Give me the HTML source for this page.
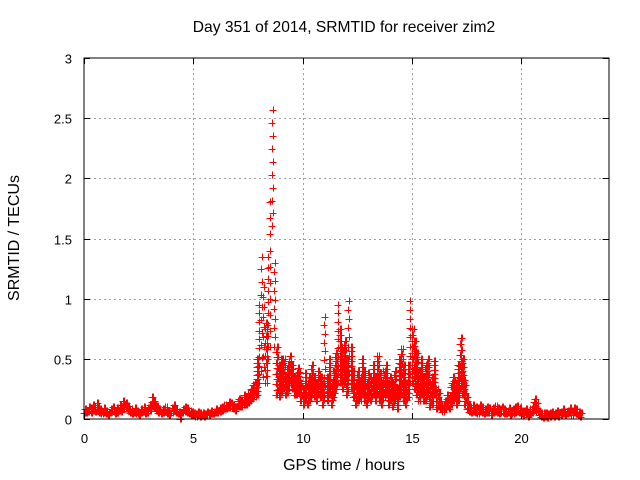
<!DOCTYPE html>
<html><head><meta charset="utf-8"><style>
body{margin:0;background:#fff;}
svg{display:block;font-family:"Liberation Sans",sans-serif;}
</style></head><body>
<svg id="chart" width="640" height="480">
<text x="344" y="32" font-size="15.6" text-anchor="middle">Day 351 of 2014, SRMTID for receiver zim2</text>
<text x="344" y="470" font-size="16" text-anchor="middle">GPS time / hours</text>
<text transform="translate(19,238) rotate(-90)" font-size="16" text-anchor="middle">SRMTID / TECUs</text>
<g id="grid"></g><g id="pts"></g>
<rect x="84" y="58" width="525" height="361" fill="none" stroke="#000" stroke-width="1"/>
<g id="axes"></g>
</svg>
<script>
const xTicks=[0,5,10,15,20];
const yTicks=[0,0.5,1,1.5,2,2.5,3];
const yTickLabels=["0","0.5","1","1.5","2","2.5","3"];
const t0=0, dt=0.1;
const hi=[0.08,0.07,0.1,0.09,0.12,0.1,0.13,0.08,0.06,0.09,0.07,0.05,0.08,0.1,0.07,0.09,0.12,0.1,0.15,0.13,0.11,0.08,0.06,0.09,0.07,0.05,0.08,0.1,0.07,0.09,0.12,0.18,0.15,0.11,0.08,0.06,0.08,0.1,0.07,0.05,0.09,0.12,0.08,0.06,0.05,0.08,
0.1,0.09,0.07,0.06,0.05,0.04,0.06,0.05,0.05,0.04,0.06,0.05,0.07,0.06,0.08,0.07,0.09,0.1,0.12,0.11,0.14,0.13,0.12,0.1,0.15,
0.17,0.16,0.2,0.18,0.22,0.25,0.28,0.3,0.5,0.95,
1.35,1.1,0.8,1.35,1.8,2.57,1.3,0.6,0.45,0.5,
0.5,0.35,0.45,0.52,0.45,0.35,0.38,0.42,0.3,0.25,
0.38,0.3,0.35,0.45,0.35,0.3,0.4,0.35,0.3,0.85,
0.35,0.5,0.3,0.4,0.55,0.95,0.75,0.6,0.65,0.5,
0.98,0.6,0.4,0.3,0.4,0.35,0.5,0.4,0.3,0.38,
0.35,0.45,0.35,0.52,0.38,0.3,0.4,0.45,0.3,0.35,
0.3,0.4,0.25,0.5,0.58,0.45,0.3,0.45,0.98,0.75,
0.65,0.55,0.4,0.5,0.35,0.45,0.5,0.3,0.35,0.48,
0.25,0.22,0.15,0.12,0.15,0.2,0.18,0.3,0.35,0.3,
0.45,0.67,0.5,0.32,0.18,0.12,0.1,0.12,0.1,0.09,
0.12,0.1,0.08,0.1,0.09,0.07,0.09,0.11,0.09,0.08,
0.1,0.08,0.07,0.09,0.07,0.08,0.1,0.11,0.09,0.07,
0.07,0.08,0.06,0.08,0.1,0.17,0.13,0.07,0.05,0.05,
0.05,0.04,0.05,0.06,0.05,0.07,0.05,0.06,0.08,0.06,
0.07,0.09,0.07,0.09,0.08,0.06,0.05];
const lo=[0.05,0.05,0.06,0.05,0.07,0.06,0.07,0.05,0.04,0.05,0.04,0.03,0.05,0.06,0.04,0.05,0.07,0.06,0.08,0.08,0.07,0.05,0.04,0.05,0.04,0.03,0.05,0.06,0.04,0.05,0.07,0.1,0.09,0.07,0.05,0.04,0.05,0.06,0.04,0.03,0.05,0.07,0.05,0.04,0.0,0.05,
0.06,0.05,0.04,0.03,0.03,0.02,0.03,0.02,0.03,0.02,0.03,0.03,0.04,0.04,0.05,0.05,0.06,0.07,0.08,0.08,0.09,0.09,0.08,0.07,0.1,
0.1,0.1,0.12,0.12,0.13,0.15,0.17,0.18,0.2,0.3,
0.4,0.35,0.3,0.5,0.6,1.6,0.6,0.2,0.18,0.22,
0.25,0.2,0.22,0.28,0.25,0.2,0.2,0.22,0.15,0.12,
0.15,0.12,0.15,0.2,0.18,0.15,0.2,0.18,0.12,0.2,
0.15,0.2,0.12,0.18,0.25,0.3,0.3,0.25,0.3,0.2,
0.3,0.25,0.18,0.12,0.15,0.15,0.2,0.15,0.12,0.18,
0.15,0.2,0.15,0.2,0.15,0.12,0.18,0.2,0.12,0.15,
0.1,0.15,0.08,0.18,0.2,0.15,0.12,0.18,0.3,0.3,
0.25,0.2,0.15,0.2,0.15,0.15,0.2,0.1,0.12,0.2,
0.08,0.1,0.08,0.06,0.08,0.1,0.08,0.12,0.15,0.12,
0.15,0.25,0.2,0.12,0.08,0.06,0.05,0.06,0.05,0.04,
0.06,0.05,0.04,0.05,0.05,0.03,0.05,0.06,0.05,0.04,
0.05,0.04,0.04,0.05,0.03,0.04,0.05,0.06,0.05,0.04,
0.03,0.04,0.02,0.04,0.05,0.08,0.06,0.03,0.02,0.01,
0.02,0.01,0.02,0.03,0.02,0.03,0.02,0.03,0.04,0.03,
0.04,0.05,0.03,0.05,0.04,0.03,0.02];
const X0=84,X1=608.6,Y0=419,Y1=58;
function sx(h){return X0+(h-0)/24*(X1-X0);}
function sy(v){return Y0-(v-0)/3*(Y0-Y1);}
const NS="http://www.w3.org/2000/svg";
function mk(tag,attrs,parent){const e=document.createElementNS(NS,tag);for(const k in attrs)e.setAttribute(k,attrs[k]);parent.appendChild(e);return e;}
const grid=document.getElementById('grid'),axes=document.getElementById('axes'),pts=document.getElementById('pts');
xTicks.forEach(t=>{const x=Math.round(sx(t))+0.5;
 if(t>0){const g=mk('line',{x1:x,x2:x,y1:Y1,y2:Y0,stroke:'#a0a0a0','stroke-dasharray':'2,3'},grid);
 
 }
 mk('line',{x1:x,x2:x,y1:Y0,y2:Y0-6,stroke:'#000'},axes);
 mk('line',{x1:x,x2:x,y1:Y1,y2:Y1+6,stroke:'#000'},axes);
 const l=mk('text',{x:x,y:443,'font-size':13,'text-anchor':'middle'},axes);l.textContent=t;
 
 
});
yTicks.forEach((t,i)=>{const y=Math.round(sy(t))+0.5;
 if(t>0&&t<3){const g=mk('line',{x1:X0,x2:X1,y1:y,y2:y,stroke:'#a0a0a0','stroke-dasharray':'2,3'},grid);
 
 }
 mk('line',{x1:X0,x2:X0+6,y1:y,y2:y,stroke:'#000'},axes);
 mk('line',{x1:X1,x2:X1-6,y1:y,y2:y,stroke:'#000'},axes);
 const l=mk('text',{x:72,y:y+5,'font-size':13,'text-anchor':'end'},axes);l.textContent=yTickLabels[i];
 
 
});
let d='';
for(let i=0;i<hi.length;i++){
 const h=t0+i*dt;
 const a=lo[i],b=hi[i];
 const n=Math.min(10,Math.max(2,Math.round((b-a)/0.035)+1));
 const reps=(b-a)>0.6?1:2;
 for(let k=0;k<n;k++){
  const v=a+(b-a)*k/(n-1);
  for(let j=0;j<reps;j++){
   const x=Math.round(sx(h+j*0.05+(k%2)*0.025)),y=Math.round(sy(v));
   d+=`M${x-3.5} ${y+0.5}h7M${x+0.5} ${y-3.5}v7`;
  }
 }
}
const p=mk('path',{d:d,stroke:'#ff0000','stroke-width':1,fill:'none'},pts);


</script>
</body></html>
